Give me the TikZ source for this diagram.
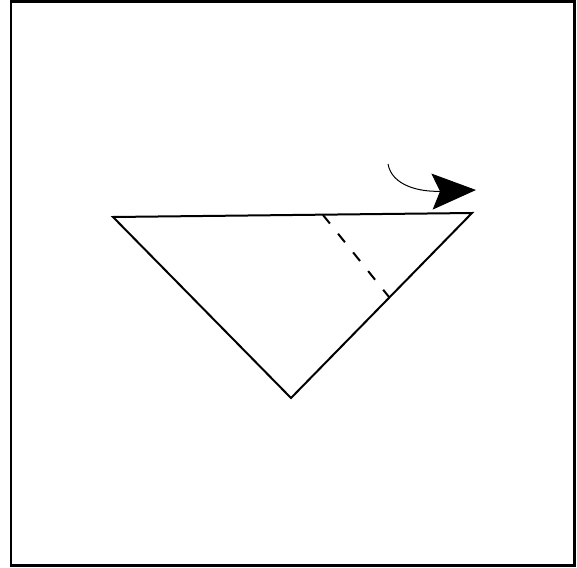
\documentclass[tikz,border=0pt]{standalone}
\usetikzlibrary{arrows.meta}
\tikzset{
  frame/.style ={draw=black, line width=2.5pt},
  edge/.style  ={draw=black, line width=2pt},
  fold/.style  ={draw=black, line width=2pt, dash pattern=on 11pt off 13pt},
  turn/.style  ={draw=black, line width=1pt, -{Stealth[length=44pt, width=36pt, inset=8pt]}},
}
\begin{document}
\begin{tikzpicture}[x=1pt, y=-1pt]
\useasboundingbox (0,0) rectangle (577,567);
\draw[frame] (11,1.5) rectangle (574.5,565.5);

% the paper triangle
\coordinate (l) at (113,217);
\coordinate (r) at (472,213);
\coordinate (b) at (291,398);
\draw[edge, line join=miter] (l) -- (r) -- (b) -- cycle;

% valley fold line
\coordinate (f1) at (323,215);
\coordinate (f2) at (389,297);
\draw[fold] (f1) -- (f2);

% turn over arrow
\coordinate (a1) at (388,164);
\coordinate (a2) at (476,190);
\draw[turn] (a1) .. controls (392,186) and (420,192) .. (a2);
\end{tikzpicture}
\end{document}
